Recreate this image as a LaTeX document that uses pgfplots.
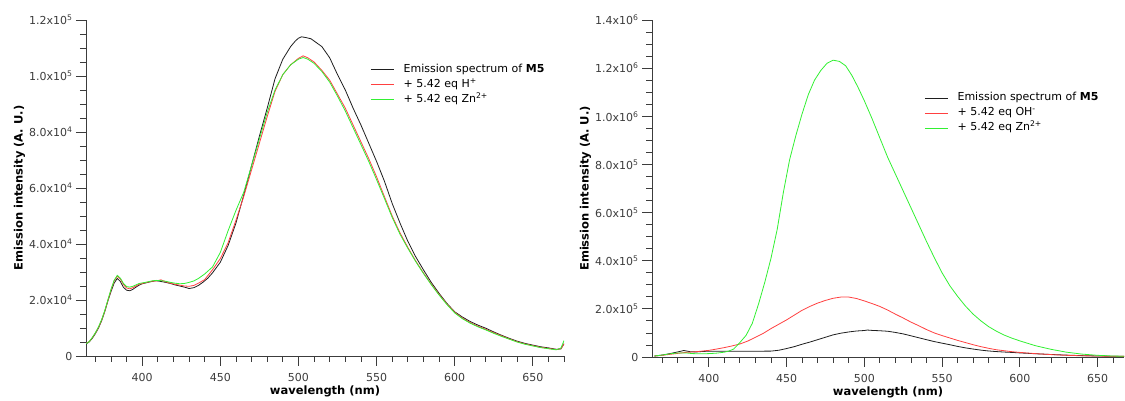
\documentclass[border=0pt]{standalone}
\usepackage{fontspec}
\setmainfont{DejaVu Sans}
\usepackage{pgfplots}
\pgfplotsset{compat=1.18}
\definecolor{axcol}{RGB}{60,60,60}
\definecolor{cblack}{RGB}{30,30,30}
\definecolor{cred}{RGB}{255,64,64}
\definecolor{cgreen}{RGB}{50,240,50}
\newcommand{\tf}{\fontsize{11}{13}\selectfont}
\newcommand{\lf}{\fontsize{11.5}{13}\selectfont}
\pgfplotsset{
  spec/.style={
    scale only axis,
    anchor=south west,
    axis lines=left,
    axis line style={-, draw=axcol, line width=0.9pt},
    tick align=outside,
    major tick length=10pt,
    minor tick length=6pt,
    every tick/.style={axcol, line width=0.8pt},
    /pgf/number format/assume math mode=true,
    tick label style={font=\tf, text=axcol},
    xtick={400,450,...,650},
    xticklabel style={yshift=-3.5pt},
    ymin=0,
    minor y tick num=3,
    scaled y ticks=false,
    xlabel={wavelength (nm)},
    ylabel={Emission intensity (A. U.)},
    every axis x label/.style={at={(ticklabel cs:0.5)}, anchor=north, yshift=2pt, font=\bfseries\lf},
    every axis y label/.style={at={(ticklabel cs:0.5)}, anchor=south, rotate=90, yshift=-3pt, font=\bfseries\lf},
    legend cell align=left,
    legend image code/.code={\draw[#1, line width=1.5pt] (0pt,0pt) -- (23pt,0pt);},
    legend style={draw=none, fill=none, font=\tf, row sep=0pt, column sep=9pt, inner sep=0pt,
      nodes={inner sep=0pt, text height=10pt, text depth=5pt}},
    every axis plot/.append style={line width=0.8pt, no markers},
  }
}
\begin{document}
\begin{tikzpicture}
\useasboundingbox (0,0) rectangle (1125pt,401pt);
%%%%%%%%%%%%%%%% LEFT
\begin{axis}[spec, at={(86pt,45pt)}, width=478pt, height=336pt,
  xmin=364, xmax=670, ymax=120000,
  minor xtick={370,380,...,670},
  ytick={0,20000,...,120000},
  yticklabels={0, 2.0x10\textsuperscript{4}, 4.0x10\textsuperscript{4}, 6.0x10\textsuperscript{4}, 8.0x10\textsuperscript{4}, 1.0x10\textsuperscript{5}, 1.2x10\textsuperscript{5}},
  legend style={at={(0.594,0.875)}, anchor=north west},
]
\addplot[cblack] coordinates {
(364,4300)(366,5000)(368,6300)(370,8000)(372,10000)(374,12600)(376,15800)(378,19600)(380,23000)(382,26000)(384,27700)(386,26600)(388,24500)(390,23500)(392,23300)(394,23800)(396,24600)(398,25300)(400,25800)(403,26200)(406,26600)(409,26900)(412,26600)(415,26300)(418,25900)(421,25400)(424,25000)(427,24600)(430,24100)(433,24400)(436,25200)(439,26400)(442,27800)(445,29700)(450,33500)(455,39500)(460,47500)(465,57500)(470,68000)(475,78500)(480,88500)(485,99000)(490,106000)(495,110500)(498,112500)(500,113500)(502,114000)(505,113700)(508,113300)(510,112500)(515,110500)(520,106500)(525,100500)(530,95000)(535,88500)(540,82500)(545,76000)(550,69500)(555,62500)(560,54500)(565,47500)(570,41000)(575,35500)(580,30800)(585,26300)(590,22400)(595,18800)(600,15800)(605,13900)(610,12300)(615,11000)(620,9900)(625,8600)(630,7400)(635,6300)(640,5300)(645,4500)(650,3900)(655,3300)(660,2900)(665,2400)(668,2500)(670,4400)
};
\addlegendentry{Emission spectrum of \textbf{M5}}
\addplot[cred] coordinates {
(364,4500)(366,5100)(368,6500)(370,8200)(372,10200)(374,12800)(376,16000)(378,19800)(380,23500)(382,26800)(384,28500)(386,27500)(388,25500)(390,24300)(392,24000)(394,24400)(396,25000)(398,25600)(400,25900)(403,26300)(406,26700)(409,26800)(412,27200)(415,26500)(418,26000)(421,25600)(424,25300)(427,25000)(430,24900)(433,25200)(436,26000)(440,27300)(445,30800)(450,34800)(455,40500)(460,48500)(465,57000)(470,66500)(475,76000)(480,85500)(485,94500)(490,100500)(495,104000)(500,106300)(503,107200)(506,106500)(510,105000)(515,102000)(520,98500)(525,93500)(530,88500)(535,82500)(540,76500)(545,70500)(550,64000)(555,57000)(560,50000)(565,44000)(570,38800)(575,34000)(580,29700)(585,25700)(590,22000)(595,18600)(600,15600)(605,13500)(610,11900)(615,10600)(620,9500)(625,8300)(630,7200)(635,6100)(640,5100)(645,4300)(650,3700)(655,3100)(660,2700)(665,2300)(668,2600)(670,4300)
};
\addlegendentry{+ 5.42 eq H\textsuperscript{+}}
\addplot[cgreen] coordinates {
(364,4400)(366,5100)(368,6600)(370,8300)(372,10400)(374,13000)(376,16200)(378,20000)(380,23800)(382,27000)(384,28800)(386,27800)(388,25900)(390,24800)(392,24600)(394,24900)(396,25400)(398,25900)(400,26100)(403,26400)(406,26800)(409,27000)(412,26900)(415,26700)(418,26300)(421,26000)(424,25800)(427,25900)(430,26300)(433,26800)(436,27700)(440,29300)(445,31800)(450,37000)(455,44800)(460,52000)(465,58500)(470,68000)(475,77500)(480,87000)(485,95000)(490,100500)(495,104000)(500,106000)(503,106600)(506,106000)(510,104500)(515,101600)(520,97800)(525,92800)(530,87500)(535,81500)(540,75500)(545,69500)(550,63000)(555,56300)(560,49500)(565,43500)(570,38500)(575,33800)(580,29500)(585,25500)(590,21800)(595,18400)(600,15400)(605,13300)(610,11700)(615,10400)(620,9300)(625,8100)(630,7000)(635,6000)(640,5000)(645,4200)(650,3600)(655,3000)(660,2600)(665,2200)(668,2800)(670,5500)
};
\addlegendentry{+ 5.42 eq Zn\textsuperscript{2+}}
\end{axis}
%%%%%%%%%%%%%%%% RIGHT
\begin{axis}[spec, at={(652pt,44pt)}, width=472pt, height=337pt,
  xmin=363.5, xmax=667, ymax=1400000,
  minor xtick={370,380,...,660},
  ytick={0,200000,...,1400000},
  yticklabels={0, 2.0x10\textsuperscript{5}, 4.0x10\textsuperscript{5}, 6.0x10\textsuperscript{5}, 8.0x10\textsuperscript{5}, 1.0x10\textsuperscript{6}, 1.2x10\textsuperscript{6}, 1.4x10\textsuperscript{6}},
  legend style={at={(0.576,0.79)}, anchor=north west},
]
\addplot[cblack] coordinates {
(365,4000)(370,8000)(375,14000)(380,21000)(384,27000)(388,22000)(392,21000)(396,23000)(400,24000)(410,24000)(420,24000)(430,24000)(440,24500)(445,28000)(450,35000)(455,43000)(460,53000)(465,62000)(470,72000)(475,82000)(480,92000)(485,99000)(490,104000)(495,108000)(500,110000)(502,112000)(505,110500)(510,109000)(515,107000)(520,102000)(525,96000)(530,88000)(535,80000)(540,72000)(545,64000)(550,57500)(555,51000)(560,44000)(565,38000)(570,33000)(575,28500)(580,25000)(585,22500)(590,20500)(595,19000)(600,17000)(610,13500)(620,10500)(630,7800)(640,5700)(650,4200)(660,3100)(667,2600)
};
\addlegendentry{Emission spectrum of \textbf{M5}}
\addplot[cred] coordinates {
(365,4000)(370,7000)(375,11000)(380,15000)(385,19000)(390,21000)(395,24000)(400,27500)(405,33000)(410,39000)(415,46000)(420,54000)(425,66000)(430,82000)(435,98000)(440,118000)(445,136000)(450,154000)(455,174000)(460,194000)(465,210000)(470,224000)(475,235000)(480,244000)(485,249000)(490,249000)(495,243000)(500,233000)(505,222000)(510,210000)(515,195000)(520,178000)(525,162000)(530,145000)(535,130000)(540,114000)(545,100000)(550,89000)(555,79000)(560,69000)(565,60000)(570,51000)(575,43000)(580,36000)(585,30000)(590,26000)(595,22000)(600,19000)(610,14000)(620,10000)(630,7000)(640,5000)(650,4000)(660,3000)(667,2600)
};
\addlegendentry{+ 5.42 eq OH\textsuperscript{-}}
\addplot[cgreen] coordinates {
(365,4000)(370,8000)(375,13000)(380,17000)(385,17000)(390,14000)(395,13500)(400,14000)(405,16000)(410,20000)(413,25000)(416,33000)(420,60000)(424,90000)(428,140000)(432,220000)(436,310000)(440,410000)(444,530000)(448,685000)(452,820000)(456,920000)(460,1010000)(464,1090000)(468,1150000)(472,1190000)(476,1220000)(480,1233000)(484,1228000)(488,1210000)(492,1170000)(496,1120000)(500,1065000)(505,990000)(510,910000)(515,830000)(520,760000)(525,690000)(530,620000)(535,550000)(540,480000)(545,413000)(550,350000)(555,296000)(560,252000)(565,212000)(570,178000)(575,150000)(580,126000)(585,107000)(590,91000)(595,78000)(600,67000)(610,47000)(620,32000)(630,20000)(640,12000)(650,7000)(660,4000)(667,3000)
};
\addlegendentry{+ 5.42 eq Zn\textsuperscript{2+}}
\end{axis}
\end{tikzpicture}
\end{document}
